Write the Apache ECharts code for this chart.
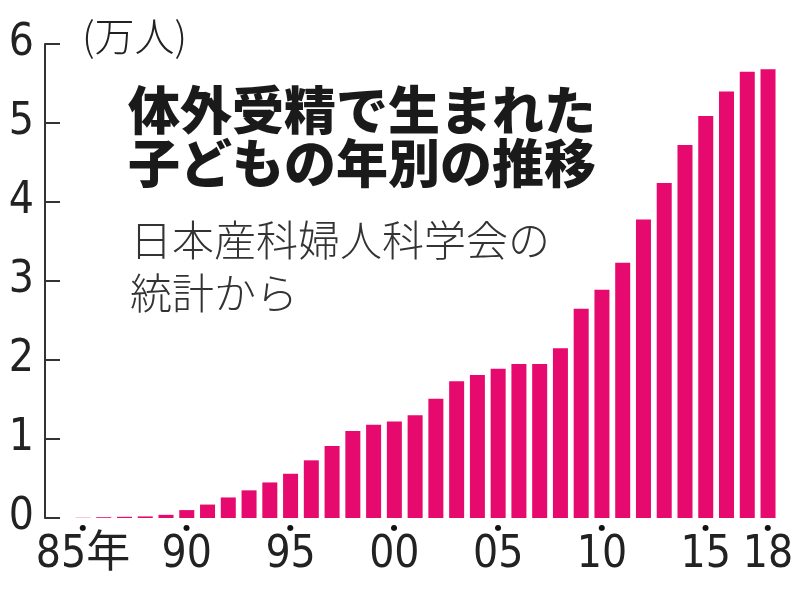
<!DOCTYPE html>
<html>
<head>
<meta charset="utf-8">
<script src="https://cdn.jsdelivr.net/npm/echarts@6/dist/echarts.min.js"></script>
<style>
html,body{margin:0;padding:0;background:#fff;}
#chart{width:806px;height:590px;}
</style>
</head>
<body>
<div id="chart"></div>
<script>
// Years 1985–2018
const years = ['1985','1986','1987','1988','1989','1990','1991','1992','1993','1994',
  '1995','1996','1997','1998','1999','2000','2001','2002','2003','2004',
  '2005','2006','2007','2008','2009','2010','2011','2012','2013','2014',
  '2015','2016','2017','2018'];
// Children born via IVF (unit: 10,000 people)
const births = [0.003,0.01,0.015,0.02,0.04,0.10,0.17,0.26,0.35,0.45,
  0.56,0.73,0.91,1.10,1.18,1.22,1.30,1.51,1.73,1.81,
  1.89,1.95,1.95,2.15,2.65,2.89,3.23,3.78,4.24,4.72,
  5.09,5.40,5.65,5.68];
// X tick labels shown
const xTickLabels = {'1985':'85年','1990':'90','1995':'95','2000':'00','2005':'05','2010':'10','2015':'15','2018':'18'};
const yTicks = [0,1,2,3,4,5,6];
const titleLines = ['体外受精で生まれた','子どもの年別の推移'];
const subLines = ['日本産科婦人科学会の','統計から'];
const unitLabel = '(万人)';

const chart = echarts.init(document.getElementById('chart'));
const numFont = '"Liberation Sans Narrow","DejaVu Sans Condensed","Noto Sans CJK JP",sans-serif';
const cjkFont = '"Noto Sans CJK JP",sans-serif';
chart.setOption({
  animation:false,
  backgroundColor:'#fff',
  grid:{left:72.6,right:27.6,top:44,bottom:72,containLabel:false},
  xAxis:{
    type:'category',
    data:years,
    boundaryGap:true,
    axisLine:{show:false},
    axisTick:{show:false},
    axisLabel:{
      interval:0,
      margin:4,
      formatter:function(v){ return xTickLabels[v] ? '{d|●}\n{v|'+xTickLabels[v]+'}' : ''; },
      rich:{
        d:{fontSize:8,lineHeight:12,color:'#111',fontFamily:'DejaVu Sans'},
        v:{fontSize:44,lineHeight:44,color:'#222',fontFamily:numFont}
      }
    }
  },
  yAxis:{
    type:'value',
    min:yTicks[0],max:yTicks[yTicks.length-1],interval:1,
    offset:27.6,
    axisLine:{show:true,lineStyle:{color:'#333',width:2}},
    axisTick:{show:true,inside:true,length:15,lineStyle:{color:'#333',width:2}},
    axisLabel:{fontSize:44,color:'#222',fontFamily:numFont,margin:11},
    splitLine:{show:false}
  },
  series:[{
    type:'bar',
    data:births,
    barWidth:15,
    itemStyle:{color:'#E6096E'}
  }],
  graphic:[
    {type:'text',left:82,top:16,style:{text:unitLabel,font:'300 40px '+cjkFont,fill:'#222'}},
    {type:'text',left:128,top:84,style:{text:titleLines.join('\n'),font:'900 52px '+cjkFont,lineHeight:53,fill:'#1a1a1a'}},
    {type:'text',left:130,top:214,style:{text:subLines.join('\n'),font:'300 42px '+cjkFont,lineHeight:53,fill:'#333'}}
  ]
});
</script>
</body>
</html>
